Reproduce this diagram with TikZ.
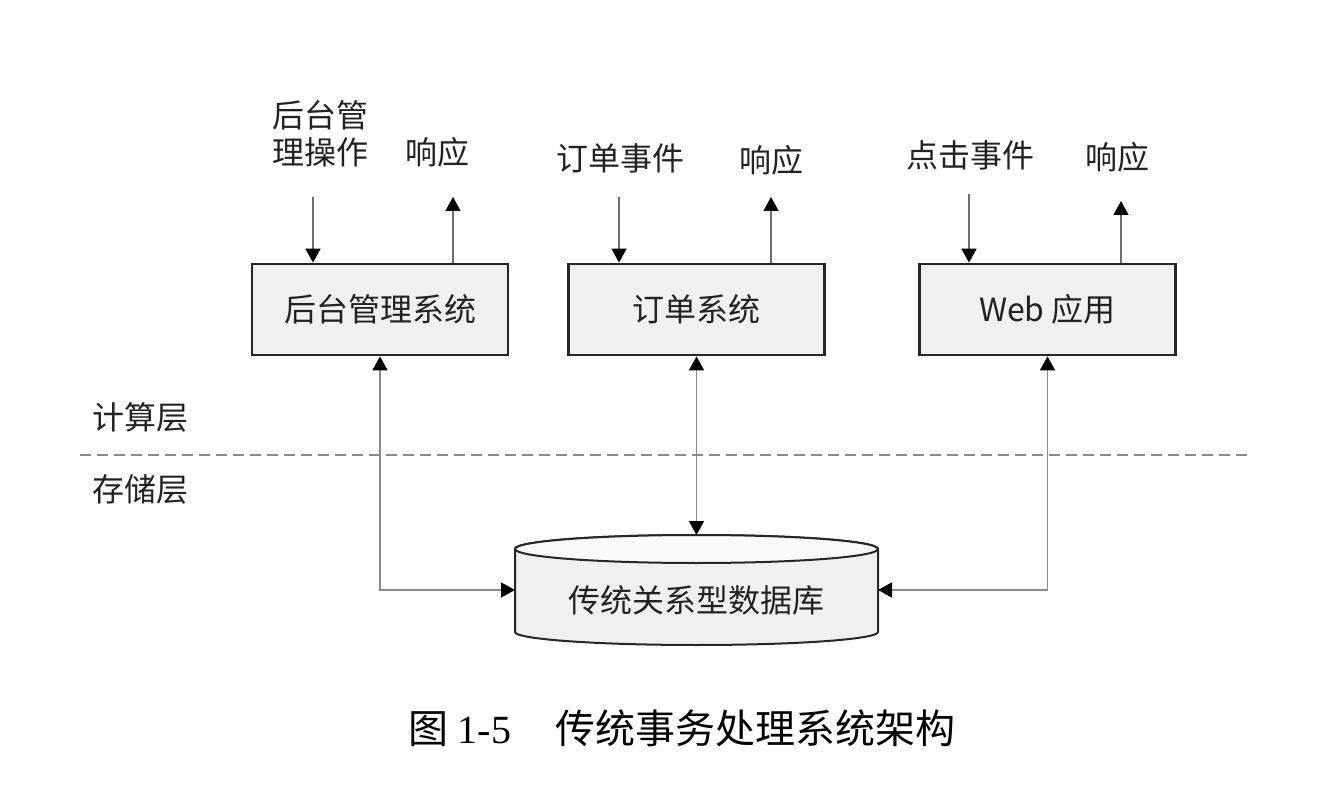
\documentclass[tikz,border=0pt]{standalone}
\usepackage{fontspec}
\setmainfont{Noto Sans CJK SC}
\newfontfamily\capserif{Liberation Serif}
\usetikzlibrary{arrows.meta}
\definecolor{boxfill}{HTML}{F0F0F0}
\definecolor{txt}{HTML}{222222}
\definecolor{conn}{HTML}{8A8A8A}
\begin{document}
\begin{tikzpicture}[x=0.5pt,y=-0.5pt,
  font=\fontsize{16pt}{18.5pt}\selectfont, text=txt,
  sysbox/.style={draw=black!85, line width=1.4pt, fill=boxfill, minimum width=128pt, minimum height=45.5pt, inner sep=0pt},
  lbl/.style={align=center, inner sep=0pt},
  arr/.style={draw=conn!80!black, line width=0.8pt, -{Triangle[length=7pt, width=7.5pt, color=black]}},
  biarr/.style={draw=conn, line width=0.8pt, {Triangle[length=7pt, width=7.5pt, color=black]}-{Triangle[length=7pt, width=7.5pt, color=black]}}
]
\useasboundingbox (0,0) rectangle (1318,802);

% dashed layer separator
\coordinate (dl1) at (80,455);
\coordinate (dl2) at (1250,455);
\draw[conn, line width=0.75pt, dash pattern=on 5.5pt off 3pt] (dl1) -- (dl2);
\node[anchor=west, inner sep=0pt] (lcomp) at (92,417) {计算层};
\node[anchor=west, inner sep=0pt] (lstore) at (92,489) {存储层};

% systems
\node[sysbox] (b1) at (380,309.5) {后台管理系统};
\node[sysbox] (b2) at (696.5,309.5) {订单系统};
\node[sysbox] (b3) at (1047.5,309.5) {Web 应用};

% top labels
\node[lbl] (in1) at (320,134) {后台管\\理操作};
\node[lbl] (out1) at (437,152) {响应};
\node[lbl] (in2) at (620,158) {订单事件};
\node[lbl] (out2) at (771,160) {响应};
\node[lbl] (in3) at (970,155) {点击事件};
\node[lbl] (out3) at (1117,157) {响应};

\coordinate (i1) at (313,197);
\coordinate (o1) at (453,197);
\coordinate (i2) at (619,197);
\coordinate (o2) at (771,197);
\coordinate (i3) at (969,194);
\coordinate (o3) at (1121,201);
\draw[arr] (i1) -- (i1 |- b1.north);
\draw[arr] (o1 |- b1.north) -- (o1);
\draw[arr] (i2) -- (i2 |- b2.north);
\draw[arr] (o2 |- b2.north) -- (o2);
\draw[arr] (i3) -- (i3 |- b3.north);
\draw[arr] (o3 |- b3.north) -- (o3);

% database cylinder
\path[fill=boxfill, draw=black!85, line width=1pt]
  (515,549) -- (515,632) arc[start angle=180, end angle=360, x radius=90.75pt, y radius=6.5pt]
  -- (878,549) arc[start angle=0, end angle=180, x radius=90.75pt, y radius=7pt] -- cycle;
\draw[fill=white!60!boxfill, line width=1pt, draw=black!85] (696.5,549) ellipse[x radius=90.75pt, y radius=7pt];
\node[minimum width=181.5pt, minimum height=55pt, inner sep=0pt, outer sep=0pt] (db) at (696.5,590) {};
\node[inner sep=0pt] (dbl) at (696.5,600) {传统关系型数据库};

% connectors to database
\draw[biarr] (b1.south) -- (b1.south |- db.west) -- (db.west);
\draw[biarr] (b2.south) -- (db.north);
\draw[biarr] (b3.south) -- (b3.south |- db.east) -- (db.east);

% caption
\node[inner sep=0pt, text=black] (cap) at (682,728) {\fontsize{20pt}{24pt}\selectfont 图 {\capserif 1-5}\hspace{1.1em}传统事务处理系统架构};
\end{tikzpicture}
\end{document}
